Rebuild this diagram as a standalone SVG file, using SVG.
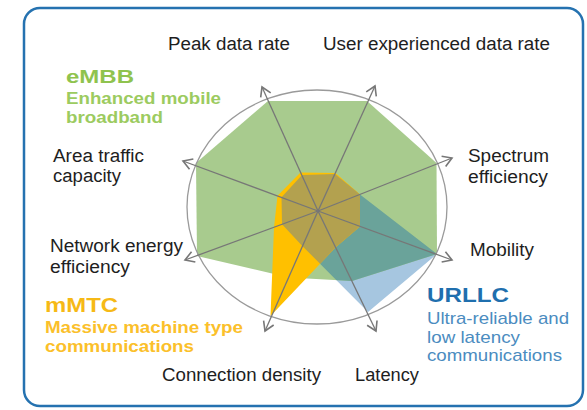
<svg xmlns="http://www.w3.org/2000/svg" width="587" height="410" viewBox="0 0 587 410">
  <style>
    text { font-family: "Liberation Sans", Arial, sans-serif; }
    .lbl { font-size: 18px; fill: #1e1e1e; }
    .g1 { font-size: 19px; font-weight: bold; fill: #8fc34e; }
    .g2 { font-size: 16px; font-weight: bold; fill: #9ccb60; }
    .y1 { font-size: 19.5px; font-weight: bold; fill: #f6b916; }
    .y2 { font-size: 16px; font-weight: bold; fill: #fbc02a; }
    .b1 { font-size: 21px; font-weight: bold; fill: #1f6fae; }
    .b2 { font-size: 17px; fill: #4b8cc0; }
    .spoke { stroke: #777; stroke-width: 1.3; fill: none; marker-end: url(#arr); }
  </style>
  <defs>
    <marker id="arr" viewBox="-11 -7 13 14" markerWidth="13" markerHeight="14" refX="0" refY="0" orient="auto" markerUnits="userSpaceOnUse">
      <path d="M-9,-5.5 L0,0 L-9,5.5" fill="none" stroke="#777" stroke-width="1.6"/>
    </marker>
    <polygon id="pgGreen" points="268,101 367,101 436.5,163 437,254 352,281 289,277.5 197,256 196,163"/>
    <polygon id="pgBlue" points="302,175 335,174 360,194.5 437,254 368,312 302.8,246.4 282,224.2 281.5,197.2"/>
    <polygon id="pgYellow" points="300.5,172.5 335.5,173 360,194.5 360,226.5 335.7,247.3 270.5,316 274,227.5 277.5,195.7"/>
    <clipPath id="clipGreen"><polygon points="268,101 367,101 436.5,163 437,254 352,281 289,277.5 197,256 196,163"/></clipPath>
    <clipPath id="clipYellow"><polygon points="300.5,172.5 335.5,173 360,194.5 360,226.5 335.7,247.3 270.5,316 274,227.5 277.5,195.7"/></clipPath>
  </defs>

  <rect id="frame" x="24" y="8" width="559" height="398" rx="16" fill="#fff" stroke="#2572b0" stroke-width="2.5"/>

  <g id="chart">
    <use href="#pgBlue" fill="#a6c6e0"/>
    <use href="#pgGreen" fill="#a8cb8e"/>
    <use href="#pgBlue" fill="#6aa39a" clip-path="url(#clipGreen)"/>
    <use href="#pgYellow" fill="#ffc000"/>
    <use href="#pgBlue" fill="#b3a14f" clip-path="url(#clipYellow)"/>
    <ellipse cx="317" cy="207" rx="130" ry="117" fill="none" stroke="#9a9a9a" stroke-width="1.3"/>
  </g>

  <g id="connectors">
    <line class="spoke" x1="318" y1="211" x2="262" y2="87"/>
    <line class="spoke" x1="318" y1="211" x2="375" y2="86"/>
    <line class="spoke" x1="318" y1="211" x2="452" y2="158"/>
    <line class="spoke" x1="318" y1="211" x2="452" y2="260"/>
    <line class="spoke" x1="318" y1="211" x2="376" y2="331"/>
    <line class="spoke" x1="318" y1="211" x2="265" y2="331"/>
    <line class="spoke" x1="318" y1="211" x2="185" y2="260"/>
    <line class="spoke" x1="318" y1="211" x2="183" y2="161"/>
  </g>

  <g id="peak"><text class="lbl" x="168" y="50" textLength="122" lengthAdjust="spacingAndGlyphs">Peak data rate</text></g>
  <g id="user"><text class="lbl" x="323" y="50" textLength="227" lengthAdjust="spacingAndGlyphs">User experienced data rate</text></g>
  <g id="area">
    <text class="lbl" x="53" y="161.5" textLength="91" lengthAdjust="spacingAndGlyphs">Area traffic</text>
    <text class="lbl" x="53" y="182" textLength="68" lengthAdjust="spacingAndGlyphs">capacity</text>
  </g>
  <g id="spectrum">
    <text class="lbl" x="468" y="162" textLength="81" lengthAdjust="spacingAndGlyphs">Spectrum</text>
    <text class="lbl" x="468" y="183" textLength="80" lengthAdjust="spacingAndGlyphs">efficiency</text>
  </g>
  <g id="mobility"><text class="lbl" x="470" y="256" textLength="64" lengthAdjust="spacingAndGlyphs">Mobility</text></g>
  <g id="network">
    <text class="lbl" x="50" y="252" textLength="133" lengthAdjust="spacingAndGlyphs">Network energy</text>
    <text class="lbl" x="50" y="273" textLength="80" lengthAdjust="spacingAndGlyphs">efficiency</text>
  </g>
  <g id="connection"><text class="lbl" x="162" y="380.5" textLength="159" lengthAdjust="spacingAndGlyphs">Connection density</text></g>
  <g id="latency"><text class="lbl" x="355" y="380.5" textLength="64" lengthAdjust="spacingAndGlyphs">Latency</text></g>

  <g id="embb">
    <text class="g1" x="66" y="83" textLength="68" lengthAdjust="spacingAndGlyphs">eMBB</text>
    <text class="g2" x="66" y="104" textLength="155" lengthAdjust="spacingAndGlyphs">Enhanced mobile</text>
    <text class="g2" x="66" y="122.5" textLength="97" lengthAdjust="spacingAndGlyphs">broadband</text>
  </g>
  <g id="mmtc">
    <text class="y1" x="45" y="312" textLength="73" lengthAdjust="spacingAndGlyphs">mMTC</text>
    <text class="y2" x="45" y="333" textLength="198" lengthAdjust="spacingAndGlyphs">Massive machine type</text>
    <text class="y2" x="45" y="351.5" textLength="149" lengthAdjust="spacingAndGlyphs">communications</text>
  </g>
  <g id="urllc">
    <text class="b1" x="427" y="302" textLength="82" lengthAdjust="spacingAndGlyphs">URLLC</text>
    <text class="b2" x="427" y="323.5" textLength="142" lengthAdjust="spacingAndGlyphs">Ultra-reliable and</text>
    <text class="b2" x="427" y="342.5" textLength="93" lengthAdjust="spacingAndGlyphs">low latency</text>
    <text class="b2" x="427" y="361" textLength="135" lengthAdjust="spacingAndGlyphs">communications</text>
  </g>
</svg>
